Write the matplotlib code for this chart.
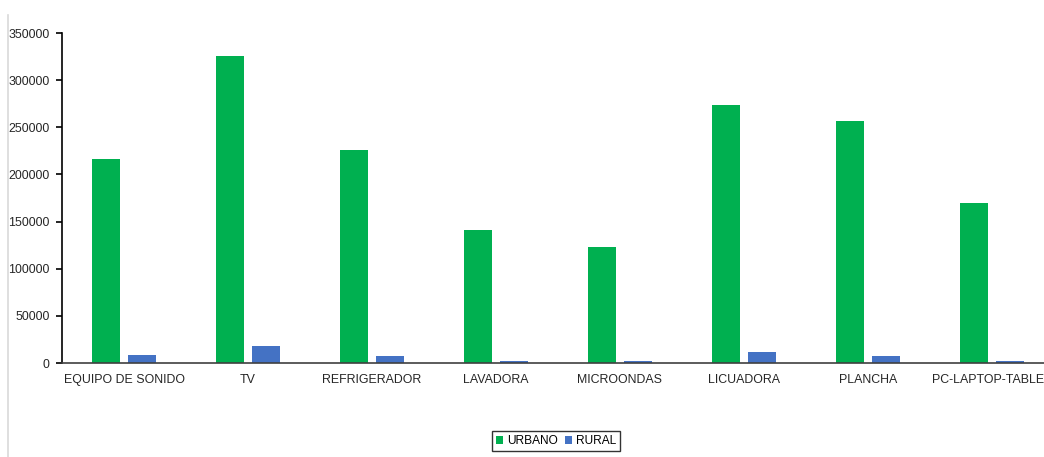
import numpy as np
import matplotlib
matplotlib.use("Agg")
from matplotlib import pyplot as plt
from matplotlib.lines import Line2D

plt.rcParams['font.family'] = ['Liberation Sans', 'DejaVu Sans']

categorias = ['EQUIPO DE SONIDO', 'TV', 'REFRIGERADOR', 'LAVADORA',
              'MICROONDAS', 'LICUADORA', 'PLANCHA', 'PC-LAPTOP-TABLET']
urbano = [216000, 325500, 225500, 141000, 123500, 273500, 256500, 169500]
rural = [8500, 18000, 7400, 2000, 2000, 11700, 7700, 2500]
yticks = [0, 50000, 100000, 150000, 200000, 250000, 300000, 350000]

fig = plt.figure(figsize=(10.44, 4.57), dpi=100)
ax = fig.add_axes([62 / 1044, 1 - 363 / 457, 992 / 1044, 330 / 457])

x = np.arange(len(categorias))
ancho = 28 / 124
desp = 18 / 124
ax.bar(x - desp, urbano, ancho, color='#00B050', label='URBANO')
ax.bar(x + desp, rural, ancho, color='#4472C4', label='RURAL')

ax.set_xlim(-0.5, len(categorias) - 0.5)
ax.set_ylim(0, 350000)
ax.set_yticks(yticks)
ax.set_yticklabels([str(v) for v in yticks])
ax.set_xticks(x)
ax.set_xticklabels(categorias)

for s in ['top', 'right']:
    ax.spines[s].set_visible(False)
ax.spines['left'].set_color('black')
ax.spines['left'].set_linewidth(1.2)
ax.spines['bottom'].set_color('#404040')
ax.spines['bottom'].set_linewidth(1.2)
ax.tick_params(axis='y', direction='out', length=4, width=1.2, labelsize=8.9,
               colors='black', labelcolor='#262626', pad=5)
ax.tick_params(axis='x', length=0, labelsize=8.9, labelcolor='#262626', pad=8)

fig.legend(loc='center', bbox_to_anchor=(556 / 1044, 1 - 441 / 457), ncol=2,
           fontsize=8.6, frameon=True, fancybox=False, edgecolor='black',
           handlelength=0.6, handleheight=0.6, handletextpad=0.3,
           columnspacing=0.6, borderpad=0.35, borderaxespad=0)

# borde gris a la izquierda
fig.add_artist(Line2D([8 / 1044, 8 / 1044], [0, 1 - 15 / 457],
                      transform=fig.transFigure, color='#D9D9D9', lw=1.2))

fig.savefig('out.png', dpi=100)
